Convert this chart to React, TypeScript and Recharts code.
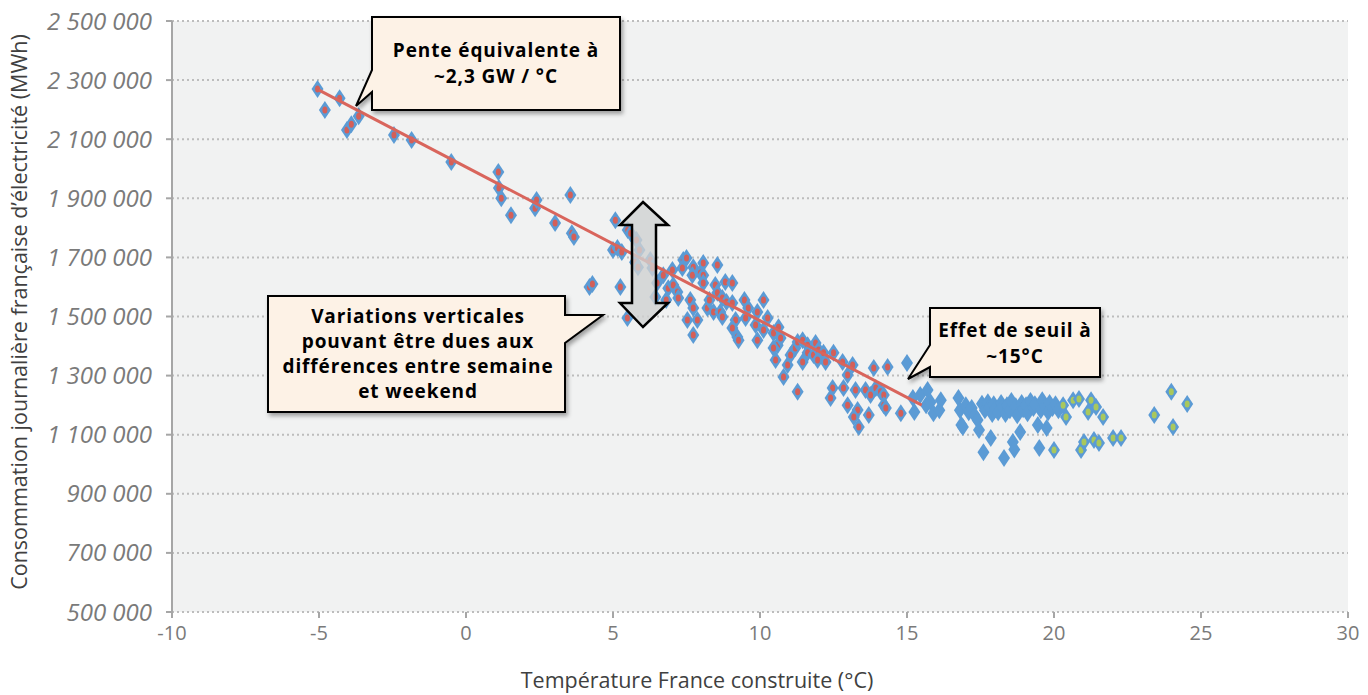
import React from "react";
import { ScatterChart, Scatter, XAxis, YAxis, CartesianGrid } from "recharts";

const W = 1360;
const H = 687;

const xTicks = [-10, -5, 0, 5, 10, 15, 20, 25, 30];
const yTicks = [500000, 700000, 900000, 1100000, 1300000, 1500000, 1700000, 1900000, 2100000, 2300000, 2500000];

// [temperature °C, daily consumption MWh]
const coldDays: [number, number][] = [
  [-5.05, 2270000], [-4.8, 2199000], [-4.3, 2239000], [-4.05, 2131000], [-3.9, 2151000], [-3.65, 2178000],
  [-2.45, 2114000], [-1.85, 2097000], [-0.5, 2023000], [1.1, 1989000], [1.12, 1935000], [1.2, 1900000],
  [1.53, 1843000], [2.35, 1866000], [2.4, 1894000], [3.03, 1816000], [3.55, 1911000], [3.6, 1782000],
  [3.67, 1769000], [4.2, 1600000], [4.3, 1610000], [5.08, 1826000], [5.0, 1725000], [5.15, 1732000],
  [5.3, 1718000], [5.25, 1600000], [5.49, 1495000], [5.5, 1793000], [5.6, 1782000], [5.8, 1759000],
  [5.9, 1725000], [5.75, 1684000], [5.85, 1667000], [6.27, 1691000], [6.34, 1664000], [6.5, 1613000],
  [6.44, 1566000], [6.71, 1640000], [6.88, 1596000], [6.81, 1556000], [7.02, 1657000], [7.39, 1691000],
  [7.36, 1664000], [7.5, 1698000], [7.73, 1667000], [7.7, 1640000], [7.97, 1647000], [8.07, 1640000],
  [8.07, 1613000], [8.07, 1681000], [7.05, 1607000], [7.19, 1583000], [7.22, 1563000], [7.63, 1556000],
  [7.73, 1529000], [7.53, 1488000], [7.87, 1488000], [7.73, 1437000], [8.55, 1674000], [8.48, 1607000],
  [8.82, 1617000], [9.06, 1613000], [8.55, 1580000], [8.72, 1563000], [8.86, 1549000], [9.06, 1546000],
  [8.21, 1529000], [8.42, 1515000], [8.28, 1556000], [8.65, 1515000], [8.72, 1498000], [9.17, 1488000],
  [9.06, 1461000], [9.23, 1431000], [9.27, 1420000], [9.47, 1556000], [9.6, 1529000], [9.91, 1515000],
  [10.12, 1556000], [10.26, 1495000], [9.85, 1471000], [9.91, 1420000], [10.12, 1454000], [9.51, 1495000],
  [10.46, 1444000], [10.6, 1403000], [10.63, 1464000], [10.7, 1427000], [10.46, 1393000], [10.53, 1353000],
  [10.94, 1336000], [10.8, 1295000], [11.04, 1370000], [11.2, 1393000], [11.28, 1245000], [11.28, 1414000],
  [11.45, 1420000], [11.62, 1403000], [11.89, 1410000], [11.62, 1377000], [11.45, 1346000], [11.82, 1370000],
  [11.99, 1387000], [12.16, 1377000], [11.96, 1353000], [12.23, 1346000], [12.5, 1377000], [12.81, 1346000],
  [13.15, 1336000], [12.98, 1302000], [12.47, 1258000], [12.4, 1224000], [12.84, 1258000], [13.25, 1251000],
  [12.98, 1200000], [13.32, 1184000], [13.19, 1160000], [13.36, 1126000], [13.7, 1167000], [13.59, 1251000],
  [13.76, 1234000], [13.94, 1258000], [14.1, 1245000], [14.21, 1234000], [14.21, 1200000], [14.28, 1190000],
  [13.87, 1326000], [14.34, 1329000], [14.79, 1173000],
];

const mildDays: [number, number][] = [
  [15.0, 1343000], [15.2, 1224000], [15.25, 1177000], [15.45, 1234000], [15.65, 1200000], [15.7, 1251000],
  [15.8, 1210000], [15.9, 1173000], [16.1, 1183000], [16.15, 1217000], [16.75, 1224000], [16.8, 1183000],
  [16.85, 1133000], [16.9, 1126000], [17.0, 1200000], [17.1, 1176000], [17.2, 1190000], [17.3, 1166000],
  [17.4, 1150000], [17.45, 1116000], [17.55, 1205000], [17.6, 1041000], [17.65, 1183000], [17.75, 1210000],
  [17.8, 1193000], [17.85, 1089000], [17.9, 1170000], [17.95, 1203000], [18.0, 1186000], [18.1, 1176000],
  [18.2, 1207000], [18.25, 1193000], [18.3, 1021000], [18.35, 1170000], [18.4, 1200000], [18.5, 1183000],
  [18.55, 1214000], [18.6, 1075000], [18.65, 1050000], [18.7, 1196000], [18.75, 1166000], [18.85, 1109000],
  [18.9, 1207000], [18.95, 1186000], [19.05, 1200000], [19.1, 1173000], [19.2, 1214000], [19.3, 1190000],
  [19.35, 1203000], [19.45, 1133000], [19.5, 1055000], [19.55, 1183000], [19.6, 1217000], [19.7, 1196000],
  [19.75, 1123000], [19.8, 1176000], [19.85, 1207000], [19.95, 1190000], [20.05, 1203000], [20.15, 1183000],
];

const warmDays: [number, number][] = [
  [20.0, 1048000], [20.31, 1200000], [20.41, 1160000], [20.65, 1217000], [20.85, 1221000], [21.26, 1217000],
  [21.16, 1177000], [21.43, 1194000], [21.67, 1160000], [20.92, 1048000], [21.02, 1075000], [21.36, 1082000],
  [21.53, 1072000], [22.01, 1089000], [22.28, 1089000], [23.41, 1167000], [23.99, 1245000], [24.53, 1204000],
  [24.05, 1126000],
];

// fitted slope on heating days
const trend: [number, number][] = [[-5, 2266000], [15.5, 1200000]];

const BLUE = "#5b9bd5";
const RED = "#d45f58";
const GREEN = "#a9c85c";
const LINE = "#d9655c";
const TICK = "#7a7a7a";
const SANS = "'Open Sans', sans-serif";

const pts = (a: [number, number][]) => a.map(([x, y]) => ({ x, y }));

const fmt = (v: number) => String(v).replace(/\B(?=(\d{3})+(?!\d))/g, " ");

const diamond = (inner?: string) => (p: any) => {
  const { cx, cy } = p;
  if (cx == null || cy == null) return <g />;
  return (
    <g>
      <path d={`M${cx},${cy - 9}L${cx + 6},${cy}L${cx},${cy + 9}L${cx - 6},${cy}Z`} fill={BLUE} />
      {inner && <ellipse cx={cx} cy={cy} rx={2.5} ry={3.5} fill={inner} />}
    </g>
  );
};

const BOLD = { fontFamily: SANS, fontWeight: 700, fontSize: 19, letterSpacing: 0.9, fill: "#000" };

function Overlay() {
  return (
    <svg width={W} height={H} style={{ position: "absolute", left: 0, top: 0, pointerEvents: "none" }}>
      <defs>
        <filter id="sh" x="-10%" y="-10%" width="130%" height="140%">
          <feDropShadow dx="2" dy="3" stdDeviation="2" floodColor="#000" floodOpacity="0.35" />
        </filter>
      </defs>

      {/* axis titles */}
      <text x={13} y={304} transform="rotate(-90 13 304)" textAnchor="middle" dominantBaseline="middle"
        style={{ fontFamily: SANS, fontSize: 21.5, fill: "#404040" }}>
        Consommation journalière française d’électricité (MWh)
      </text>
      <text x={689} y={674} textAnchor="middle" dominantBaseline="middle"
        style={{ fontFamily: SANS, fontSize: 21.5, fill: "#404040" }}>
        Température France construite (°C)
      </text>

      {/* vertical spread arrow */}
      <path d="M635,194 L660,217 L648,217 L648,295 L660,295 L635,319 L612,295 L624,295 L624,217 L612,217 Z"
        fill="#cfd1d1" fillOpacity={0.8} stroke="#000" strokeWidth={2.5} strokeLinejoin="miter" />

      {/* slope callout */}
      <path d="M364,9 H612 V102 H364 V84 L348,98 L364,62 Z" fill="#fdf2e6" stroke="#000" strokeWidth={2} filter="url(#sh)" />
      <text x={488} y={44} textAnchor="middle" dominantBaseline="middle" style={BOLD}>Pente équivalente à</text>
      <text x={488} y={70} textAnchor="middle" dominantBaseline="middle" style={BOLD}>~2,3 GW / °C</text>

      {/* weekday/weekend callout */}
      <path d="M260,288 H557 V307 L595,307 L557,335 V404 H260 Z" fill="#fdf2e6" stroke="#000" strokeWidth={2} filter="url(#sh)" />
      {["Variations verticales", "pouvant être dues aux", "différences entre semaine", "et weekend"].map((t, i) => (
        <text key={t} x={410} y={310 + i * 25} textAnchor="middle" dominantBaseline="middle" style={BOLD}>{t}</text>
      ))}

      {/* threshold callout */}
      <path d="M922,300 H1092 V369 H922 V359 L900,371 L922,337 Z" fill="#fdf2e6" stroke="#000" strokeWidth={2} filter="url(#sh)" />
      <text x={1007} y={324} textAnchor="middle" dominantBaseline="middle" style={BOLD}>Effet de seuil à</text>
      <text x={1007} y={350} textAnchor="middle" dominantBaseline="middle" style={BOLD}>~15°C</text>
    </svg>
  );
}

export default function App() {
  return (
    <div style={{ position: "relative", width: W, height: H }}>
      <ScatterChart width={W} height={H} margin={{ top: 13, right: 20, bottom: 0, left: 0 }}>
        <CartesianGrid vertical={false} fill="#f1f2f2" stroke="#bdbdbd" strokeWidth={2} strokeDasharray="2 3" />
        <XAxis type="number" dataKey="x" domain={[-10, 30]} ticks={xTicks} height={83}
          axisLine={false} tickLine={{ stroke: "#a6a6a6", strokeWidth: 2 }} tickSize={6} tickMargin={8}
          tick={{ fill: TICK, fontSize: 20, fontFamily: SANS }} />
        <YAxis type="number" dataKey="y" domain={[500000, 2500000]} ticks={yTicks} width={164}
          axisLine={{ stroke: "#a6a6a6", strokeWidth: 2 }} tickLine={{ stroke: "#a6a6a6", strokeWidth: 2 }}
          tickSize={6} tickMargin={14} tickFormatter={fmt}
          tick={{ fill: TICK, fontSize: 24, fontStyle: "italic", fontFamily: SANS }} />
        <Scatter data={pts(coldDays)} shape={diamond(RED)} isAnimationActive={false} />
        <Scatter data={pts(mildDays)} shape={diamond()} isAnimationActive={false} />
        <Scatter data={pts(warmDays)} shape={diamond(GREEN)} isAnimationActive={false} />
        <Scatter data={pts(trend)} line={{ stroke: LINE, strokeWidth: 3 }} shape={() => <g />} isAnimationActive={false} />
      </ScatterChart>
      <Overlay />
    </div>
  );
}
